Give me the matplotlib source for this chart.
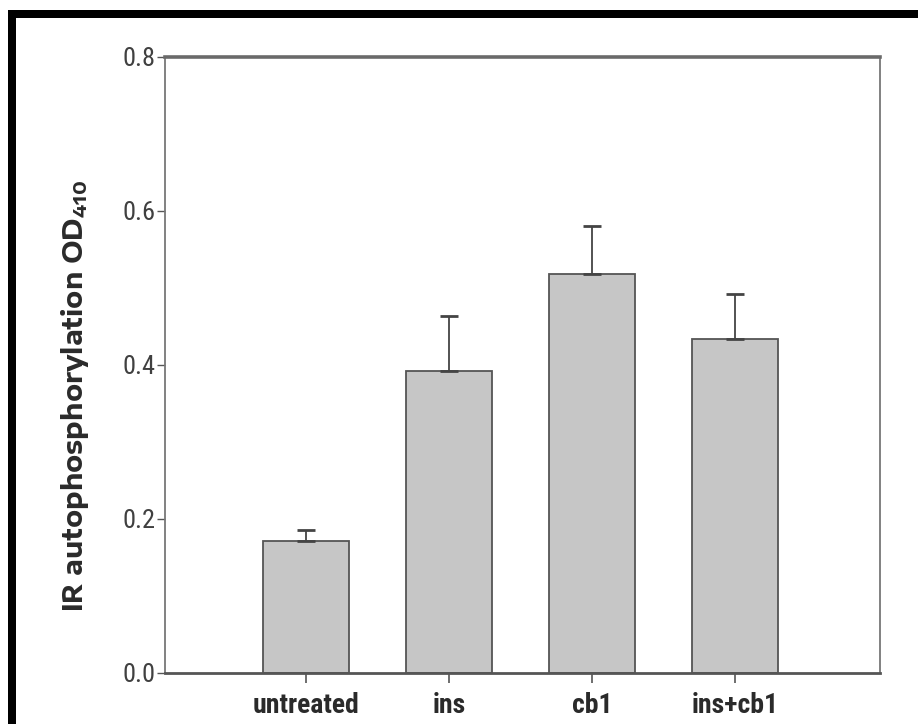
import matplotlib
matplotlib.use("Agg")
import matplotlib.pyplot as plt
from matplotlib.patches import Rectangle

categories = ["untreated", "ins", "cb1", "ins+cb1"]
values = [0.172, 0.392, 0.518, 0.434]
errors = [0.014, 0.071, 0.063, 0.058]
yticks = [0.0, 0.2, 0.4, 0.6, 0.8]

W, H = 918, 724
fig = plt.figure(figsize=(W / 100, H / 100), dpi=100)
fig.patch.set_facecolor("white")

# black frame (top and left)
fig.patches.append(Rectangle((8 / W, 1 - 18 / H), 1 - 8 / W, 8 / H, transform=fig.transFigure,
                             facecolor="black", edgecolor="none", zorder=5))
fig.patches.append(Rectangle((8 / W, 0), 8 / W, 1 - 10 / H, transform=fig.transFigure,
                             facecolor="black", edgecolor="none", zorder=5))

left, right, top, bottom = 165, 880, 57, 673
ax = fig.add_axes([left / W, 1 - bottom / H, (right - left) / W, (bottom - top) / H])

x = list(range(len(categories)))
ax.bar(x, values, width=0.6, color="#c6c6c6", edgecolor="#555555", linewidth=1.3, zorder=2)
ax.errorbar(x, values, yerr=[[0] * len(errors), errors], fmt="none", ecolor="#444444",
            elinewidth=1.3, capsize=6.5, capthick=2.0, zorder=3)

ax.set_xlim(-0.985, 4.01)
ax.set_ylim(0, 0.8)
ax.set_yticks(yticks)
ax.set_yticklabels([f"{t:.1f}" for t in yticks], fontsize=19, family=["Roboto Condensed", "DejaVu Sans"],
                   fontweight="normal", color="#404040")
ax.set_xticks(x)
ax.set_xticklabels(categories, fontsize=20, family=["Roboto Condensed", "DejaVu Sans"],
                   fontweight="bold", color="#2a2a2a")
ax.tick_params(axis="y", direction="out", length=6, width=1, color="#555555", pad=1)
ax.tick_params(axis="x", direction="out", length=7, width=1.2, color="#555555", pad=7)

for side, sp in ax.spines.items():
    sp.set_color("#777777")
    sp.set_linewidth(1.3)
ax.spines["top"].set_linewidth(2.6)
ax.spines["top"].set_color("#6a6a6a")
ax.spines["bottom"].set_linewidth(2.0)
ax.spines["bottom"].set_color("#555555")

ax.set_ylabel("IR autophosphorylation OD$_{\\mathregular{410}}$", fontsize=19, fontweight="bold",
              family=["Encode Sans Expanded", "Liberation Sans"], color="#2a2a2a")
ax.yaxis.set_label_coords(-0.104, 0.45)

fig.savefig("out.png", dpi=100, facecolor="white")
